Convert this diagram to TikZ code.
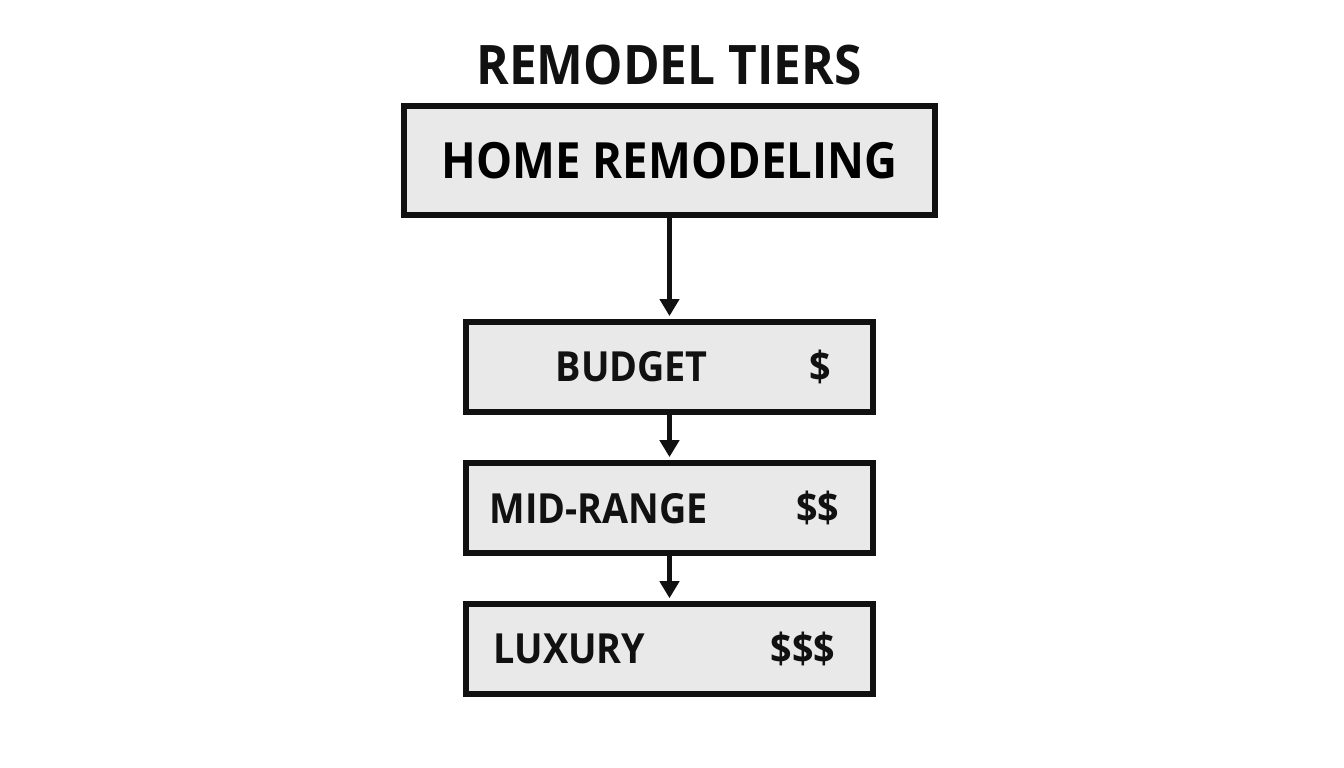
\documentclass[tikz,border=0pt]{standalone}
\usepackage{fontspec}
\setmainfont[FakeStretch=0.91]{Open Sans}
\usepackage{tikz}
\usetikzlibrary{arrows.meta,positioning}
\definecolor{boxgray}{HTML}{E9E9E9}
\definecolor{inkblack}{HTML}{111111}
\tikzset{
    %Define standard arrow tip
    >={Triangle[width=0.19cm,length=0.17cm]},
    %Define style for the main box
    topbox/.style={
           rectangle,
           draw=inkblack, line width=0.06cm,
           minimum width=5.31cm,
           minimum height=1.09cm,
           font=\fontsize{14.2}{16}\selectfont\bfseries,
           text centered,
           fill=boxgray},
    %Define style for the tier boxes
    tierbox/.style={
           rectangle,
           draw=inkblack, line width=0.06cm,
           minimum width=4.07cm,
           minimum height=0.90cm,
           fill=boxgray},
    tiertext/.style={
           font=\fontsize{11.8}{14}\selectfont\bfseries,
           text=inkblack, inner sep=0pt},
    % Define arrow style
    pil/.style={
           ->,
           draw=inkblack,
           line width=0.05cm,
           shorten >=0.03cm,}
}
\begin{document}
\begin{tikzpicture}[x=0.01cm,y=-0.01cm,node distance=0.45cm]
\useasboundingbox[fill=white] (0,0) rectangle (1344,768);
 %nodes
\node[font=\fontsize{15.5}{18}\selectfont\bfseries, text=inkblack] (title) at (669,65) {REMODEL TIERS};
\node[topbox] (home) at (669.5,160.5) {HOME REMODELING};
\node[tierbox, below=1.01cm of home] (budget) {};
\node[tierbox, below=of budget] (midrange) {};
\node[tierbox, below=of midrange] (luxury) {};
 %texts
\node[tiertext, anchor=west] (budgetname) at ([xshift=0.92cm]budget.west) {BUDGET};
\node[tiertext, anchor=east] (budgetcost) at ([xshift=-0.44cm]budget.east) {\$};
\node[tiertext, anchor=west] (midname) at ([xshift=0.26cm]midrange.west) {MID-RANGE};
\node[tiertext, anchor=east] (midcost) at ([xshift=-0.36cm]midrange.east) {\$\$};
\node[tiertext, anchor=west] (luxname) at ([xshift=0.30cm]luxury.west) {LUXURY};
\node[tiertext, anchor=east] (luxcost) at ([xshift=-0.40cm]luxury.east) {\$\$\$};
 %arrows
\draw[pil] (home) -- (budget);
\draw[pil] (budget) -- (midrange);
\draw[pil] (midrange) -- (luxury);
\end{tikzpicture}
\end{document}
